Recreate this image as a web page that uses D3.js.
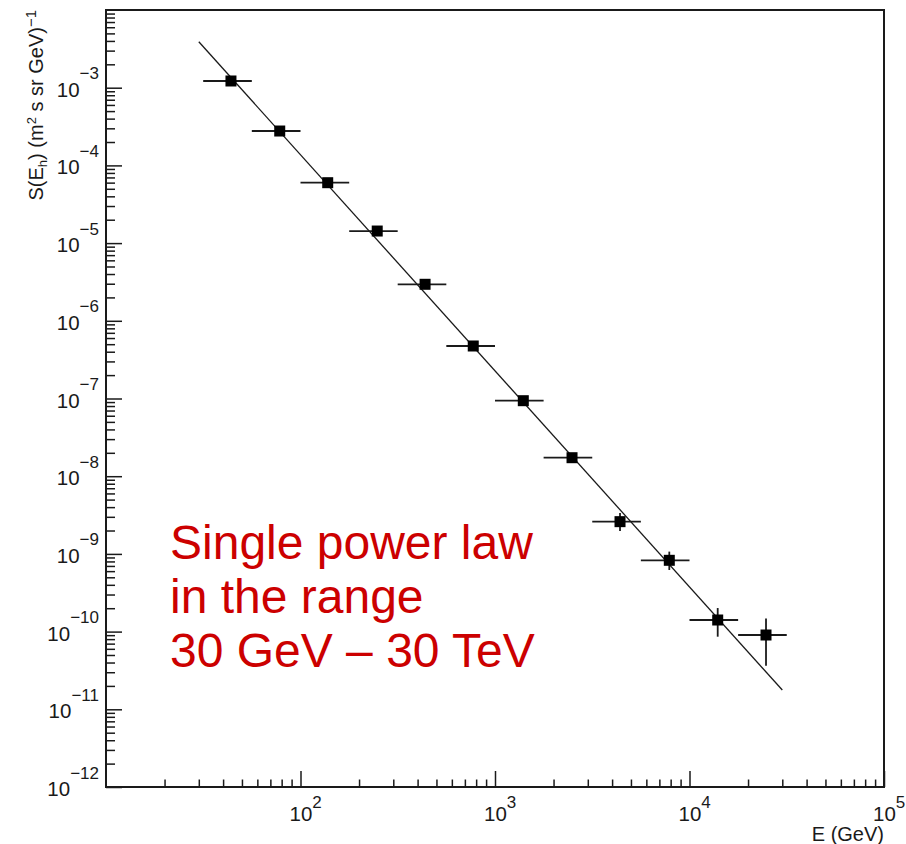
<!DOCTYPE html>
<html>
<head>
<meta charset="utf-8">
<script src="https://cdn.jsdelivr.net/npm/d3@7"></script>
<style>
  body { margin: 0; background: #fff; }
  svg { display: block; font-family: "Liberation Sans", Arial, sans-serif; }
</style>
</head>
<body>
<div id="chartContainer"></div>
<script>
// measured points: mean energy (GeV) and flux S(E)
const energy = [43.9, 78.2, 138, 248, 437, 773, 1398, 2489, 4393, 7873, 13964, 24738];
const flux = [1.22e-3, 2.77e-4, 5.99e-5, 1.43e-5, 2.95e-6, 4.74e-7, 9.37e-8, 1.73e-8, 2.6e-9, 8.27e-10, 1.41e-10, 9.04e-11];
// energy bins (horizontal bars)
const binLow = [31.6, 56.2, 100, 178, 316, 562, 1000, 1778, 3162, 5623, 10000, 17783];
const binHigh = [56.2, 100, 178, 316, 562, 1000, 1778, 3162, 5623, 10000, 17783, 31623];
// flux errors (vertical bars)
const fluxLow = [1.19e-3, 2.7e-4, 5.85e-5, 1.4e-5, 2.88e-6, 4.63e-7, 9.1e-8, 1.68e-8, 1.97e-9, 6.21e-10, 8.6e-11, 3.64e-11];
const fluxHigh = [1.25e-3, 2.84e-4, 6.13e-5, 1.46e-5, 3.02e-6, 4.85e-7, 9.6e-8, 1.78e-8, 3.36e-9, 1.07e-9, 2.01e-10, 1.47e-10];
// single power law fit, 30 GeV - 30 TeV
const fitE = [30, 30000];
const fitS = [3.9e-3, 1.77e-11];

const xDecades = [1e1, 1e2, 1e3, 1e4, 1e5];
const xLabelled = [1e2, 1e3, 1e4, 1e5];
const yDecades = [1e-12, 1e-11, 1e-10, 1e-9, 1e-8, 1e-7, 1e-6, 1e-5, 1e-4, 1e-3, 1e-2];
const minorSteps = [2, 3, 4, 5, 6, 7, 8, 9];

const noteLines = ["Single power law", "in the range", "30 GeV \u2013 30 TeV"];

const width = 906, height = 844;
const margin = { top: 10, right: 22, bottom: 57, left: 106 };

const svg = d3.select("#chartContainer")
  .append("svg")
  .attr("width", width)
  .attr("height", height);

const x = d3.scaleLog().domain([1e1, 1e5]).range([margin.left, width - margin.right]);
const y = d3.scaleLog().domain([1e-12, 1e-2]).range([height - margin.bottom, margin.top]);

const minorX = xDecades.slice(0, -1).flatMap(d => minorSteps.map(m => d * m));
const minorY = yDecades.slice(0, -1).flatMap(d => minorSteps.map(m => d * m));

const ink = "#1a1a1a";

// minor ticks
svg.append("g")
  .attr("transform", "translate(0," + y.range()[0] + ")")
  .call(d3.axisBottom(x).tickValues(minorX).tickSize(-7.5).tickFormat(""))
  .call(g => g.select(".domain").remove())
  .selectAll("line").attr("stroke", ink).attr("stroke-width", 1.5);

svg.append("g")
  .attr("transform", "translate(" + x.range()[0] + ",0)")
  .call(d3.axisLeft(y).tickValues(minorY).tickSize(-9).tickFormat(""))
  .call(g => g.select(".domain").remove())
  .selectAll("line").attr("stroke", ink).attr("stroke-width", 1.5);

// major ticks + labels
const exponent = d => Math.round(Math.log10(d));

const xAxis = svg.append("g")
  .attr("transform", "translate(0," + y.range()[0] + ")")
  .call(d3.axisBottom(x).tickValues(xLabelled).tickSize(-16).tickFormat(""));
xAxis.select(".domain").remove();
xAxis.selectAll("line").attr("stroke", ink).attr("stroke-width", 1.5);
xAxis.selectAll(".tick text").each(function (d) {
  const t = d3.select(this)
    .attr("x", -11.5).attr("y", 34).attr("dy", null)
    .attr("text-anchor", "start")
    .attr("fill", ink)
    .style("font-size", "20.5px");
  t.append("tspan").text("10");
  t.append("tspan").attr("dy", -13).style("font-size", "17px").text(exponent(d));
});

const yAxis = svg.append("g")
  .attr("transform", "translate(" + x.range()[0] + ",0)")
  .call(d3.axisLeft(y).tickValues(yDecades.slice(0, -1)).tickSize(-16).tickPadding(7).tickFormat(""));
yAxis.select(".domain").remove();
yAxis.selectAll("line").attr("stroke", ink).attr("stroke-width", 1.5);
yAxis.selectAll(".tick text").each(function (d) {
  const t = d3.select(this)
    .attr("y", 8.5).attr("dy", null)
    .attr("text-anchor", "end")
    .attr("fill", ink)
    .style("font-size", "20.5px");
  t.append("tspan").text("10");
  t.append("tspan").attr("dy", -17.5).style("font-size", "17px").text("\u2212" + Math.abs(exponent(d)));
});

// frame
svg.append("rect")
  .attr("x", x.range()[0])
  .attr("y", y.range()[1])
  .attr("width", x.range()[1] - x.range()[0])
  .attr("height", y.range()[0] - y.range()[1])
  .attr("fill", "none")
  .attr("stroke", ink)
  .attr("stroke-width", 2);

// axis titles
svg.append("text")
  .attr("x", x.range()[1])
  .attr("y", 841)
  .attr("text-anchor", "end")
  .attr("fill", ink)
  .style("font-size", "20px")
  .text("E (GeV)");

const yTitle = svg.append("text")
  .attr("transform", "translate(43," + y.range()[1] + ") rotate(-90)")
  .attr("text-anchor", "end")
  .attr("fill", ink)
  .style("font-size", "20px");
yTitle.append("tspan").text("S(E");
yTitle.append("tspan").attr("dy", 4).style("font-size", "13px").text("h");
yTitle.append("tspan").attr("dy", -4).text(") (m");
yTitle.append("tspan").attr("dy", -7).style("font-size", "13px").text("2");
yTitle.append("tspan").attr("dy", 7).text(" s sr GeV)");
yTitle.append("tspan").attr("dy", -7).style("font-size", "15px").text("\u22121");

// fit line
const fitData = fitE.map((e, i) => ({ e: e, s: fitS[i] }));
svg.append("path")
  .datum(fitData)
  .attr("fill", "none")
  .attr("stroke", ink)
  .attr("stroke-width", 1.3)
  .attr("d", d3.line().x(d => x(d.e)).y(d => y(d.s)));

// points with error bars
const points = energy.map((e, i) => ({
  e: e, s: flux[i], lo: binLow[i], hi: binHigh[i], sLo: fluxLow[i], sHi: fluxHigh[i]
}));

const pts = svg.append("g").selectAll("g").data(points).enter().append("g");
pts.append("line")
  .attr("x1", d => x(d.lo)).attr("x2", d => x(d.hi))
  .attr("y1", d => y(d.s)).attr("y2", d => y(d.s))
  .attr("stroke", ink).attr("stroke-width", 1.8);
pts.append("line")
  .attr("x1", d => x(d.e)).attr("x2", d => x(d.e))
  .attr("y1", d => y(d.sLo)).attr("y2", d => y(d.sHi))
  .attr("stroke", ink).attr("stroke-width", 1.8);
pts.append("rect")
  .attr("x", d => x(d.e) - 5.5).attr("y", d => y(d.s) - 5.5)
  .attr("width", 11).attr("height", 11)
  .attr("fill", "#000");

// red note
svg.append("g").selectAll("text").data(noteLines).enter().append("text")
  .attr("x", 170)
  .attr("y", (d, i) => 559 + i * 54)
  .attr("fill", "#cc0000")
  .style("font-size", "48px")
  .text(d => d);
</script>
</body>
</html>
